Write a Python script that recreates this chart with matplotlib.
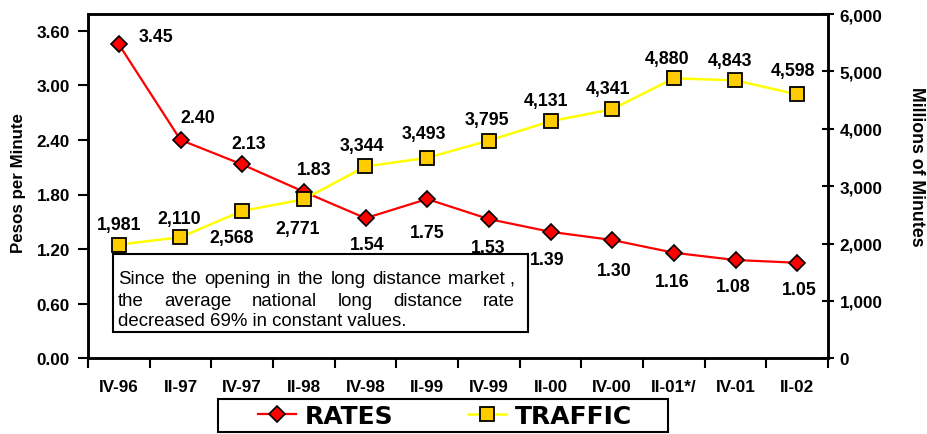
import numpy as np
import matplotlib
matplotlib.use("Agg")
import matplotlib.pyplot as plt
from matplotlib.patches import Rectangle

plt.rcParams['font.family'] = ['Liberation Sans', 'DejaVu Sans']

# data
periods = ['IV-96', 'II-97', 'IV-97', 'II-98', 'IV-98', 'II-99',
           'IV-99', 'II-00', 'IV-00', 'II-01*/', 'IV-01', 'II-02']
rates = [3.45, 2.40, 2.13, 1.83, 1.54, 1.75, 1.53, 1.39, 1.30, 1.16, 1.08, 1.05]
traffic = [1981, 2110, 2568, 2771, 3344, 3493, 3795, 4131, 4341, 4880, 4843, 4598]

rate_yticks = [0.00, 0.60, 1.20, 1.80, 2.40, 3.00, 3.60]
traffic_yticks = [0, 1000, 2000, 3000, 4000, 5000, 6000]

# label offsets in pixels (dx, dy)
rate_offsets = [(37, 8), (17, 22), (7, 21), (10, 22), (2, -26), (0, -33),
                (-1, -28), (-3, -28), (2, -30), (-2, -29), (-2, -26), (2, -27)]
traffic_offsets = [(0, 20), (-1, 19), (-11, -27), (-6, -29), (-4, 21), (-3, 24),
                   (-2, 21), (-4, 21), (-4, 21), (-7, 20), (-5, 20), (-4, 24)]

W, H = 927, 435
fig = plt.figure(figsize=(W / 100, H / 100), dpi=100)
ax = fig.add_axes([88 / W, 1 - 359.3 / H, 740 / W, 344.3 / H])
ax2 = ax.twinx()

x = np.arange(len(periods))

l1, = ax.plot(x, rates, color='#FF0000', lw=1.6, marker='D', ms=8.5,
              mfc='#FF0000', mec='black', mew=1.2, label='RATES')
l2, = ax2.plot(x, traffic, color='#FFFF00', lw=1.8, marker='s', ms=9.5,
               mfc='#FFCC00', mec='black', mew=1.3, label='TRAFFIC')

ax.set_xlim(-0.5, len(periods) - 0.5)
ax.set_ylim(0, 3.6 * 344.3 / 327.6)
ax2.set_ylim(0, 6000)

ax.set_yticks(rate_yticks)
ax.set_yticklabels(['%.2f' % v for v in rate_yticks])
ax2.set_yticks(traffic_yticks)
ax2.set_yticklabels(['{:,}'.format(v) for v in traffic_yticks])

ax.set_xticks(np.arange(-0.5, len(periods)), [])
ax.set_xticks(x, periods, minor=True)
ax.tick_params(axis='x', which='major', direction='out', length=7, width=1.5)
ax.tick_params(axis='x', which='minor', length=0, pad=15, labelsize=12.3)
ax.tick_params(axis='y', direction='out', length=7, width=1.5, pad=6, labelsize=12.3)
ax2.tick_params(axis='y', direction='inout', length=9, width=1.5, pad=4, labelsize=12.3)
for lab in ax.get_xticklabels(minor=True) + ax.get_yticklabels() + ax2.get_yticklabels():
    lab.set_fontweight('bold')

for a in (ax, ax2):
    for s in a.spines.values():
        s.set_linewidth(1.8)

for i, v in enumerate(rates):
    ax.annotate('%.2f' % v, (x[i], v), xytext=rate_offsets[i], textcoords='offset pixels',
                ha='center', va='center', fontsize=12.8, fontweight='bold')
for i, v in enumerate(traffic):
    ax2.annotate('{:,}'.format(v), (x[i], v), xytext=traffic_offsets[i],
                 textcoords='offset pixels', ha='center', va='center',
                 fontsize=12.8, fontweight='bold')

fig.text(19 / W, 1 - 183 / H, 'Pesos per Minute', rotation=90, ha='center', va='center',
         fontsize=12.2, fontweight='bold')
fig.text(916 / W, 1 - 167 / H, 'Millions of Minutes', rotation=270, ha='center', va='center',
         fontsize=12.8, fontweight='bold')

# note box with justified text
box = Rectangle((113 / W, 1 - 333 / H), 415 / W, 78 / H, transform=fig.transFigure,
                facecolor='white', edgecolor='black', lw=1.5, zorder=5)
fig.add_artist(box)

note_lines = ['Since the opening in the long distance market ,',
              'the average national long distance rate',
              'decreased 69% in constant values.']
baselines = [284, 305.5, 326.5]
left_px, right_px = 118, 515
note_size = 13.4

fig.canvas.draw()
renderer = fig.canvas.get_renderer()
for j, line in enumerate(note_lines):
    yb = 1 - baselines[j] / H
    if j == len(note_lines) - 1:
        fig.text(left_px / W, yb, line, fontsize=note_size, va='baseline', ha='left', zorder=6)
        continue
    words = line.replace('market ,', 'market\u00a0,').split(' ')
    texts = [fig.text(0, yb, w, fontsize=note_size, va='baseline', ha='left', zorder=6)
             for w in words]
    widths = [t.get_window_extent(renderer).width for t in texts]
    gap = (right_px - left_px - sum(widths)) / (len(words) - 1)
    pos = left_px
    for t, w in zip(texts, widths):
        t.set_x(pos / W)
        pos += w + gap

# legend: frameless legend inside a hand-sized box
leg_box = Rectangle((218 / W, 1 - 433 / H), 450 / W, 33 / H, transform=fig.transFigure,
                    facecolor='white', edgecolor='black', lw=1.5, zorder=4)
fig.add_artist(leg_box)
leg = fig.legend([l1, l2], ['RATES', 'TRAFFIC'], loc='center', ncol=2,
                 bbox_to_anchor=(445 / W, 1 - 417 / H),
                 prop={'family': 'DejaVu Sans', 'weight': 'bold', 'size': 18},
                 handlelength=1.5, handletextpad=0.35, columnspacing=3.0,
                 borderpad=0.1, frameon=False)
leg.set_zorder(6)

fig.savefig('out.png', dpi=100)
